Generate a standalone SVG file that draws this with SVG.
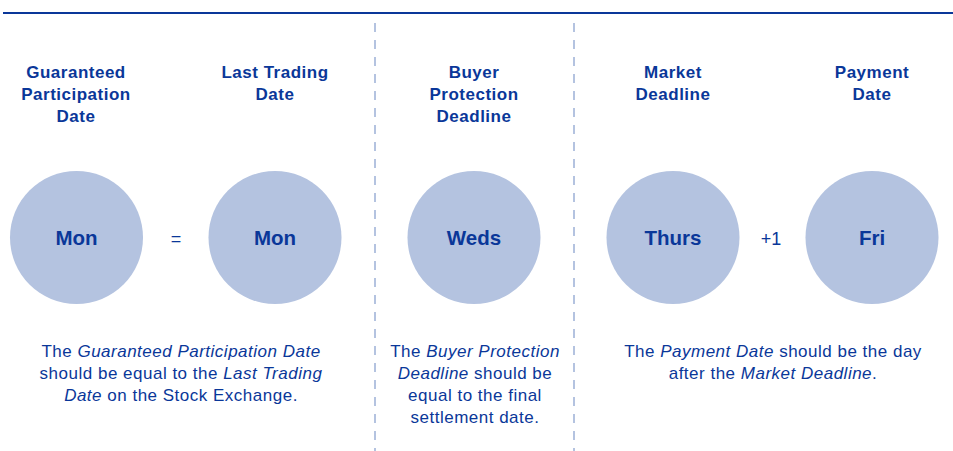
<svg xmlns="http://www.w3.org/2000/svg" width="953" height="451" viewBox="0 0 953 451">
<style>
text{font-family:"Liberation Sans",Arial,sans-serif;fill:#0a3799;text-anchor:middle}
.h{font-size:17px;font-weight:bold;letter-spacing:0.5px}
.c{font-size:20.5px;font-weight:bold}
.b{font-size:17px;letter-spacing:0.5px}
.op{font-size:18px}
circle{fill:#b4c3e0}
.sep{stroke:#b4c3e0;stroke-width:2;stroke-dasharray:9 8}
</style>
<rect width="953" height="451" fill="#fff"/>
<line x1="3" y1="13" x2="953" y2="13" stroke="#0a3799" stroke-width="2.2"/>
<g id="separators">
<line class="sep" x1="375" y1="23" x2="375" y2="451"/>
<line class="sep" x1="574" y1="23" x2="574" y2="451"/>
</g>
<g id="node-gpd">
<text class="h"><tspan x="76" y="78">Guaranteed</tspan><tspan x="76" y="100">Participation</tspan><tspan x="76" y="122">Date</tspan></text>
<circle cx="76.5" cy="237.5" r="66.5"/>
<text class="c" x="76.5" y="245">Mon</text>
</g>
<g id="node-ltd">
<text class="h"><tspan x="275" y="78">Last Trading</tspan><tspan x="275" y="100">Date</tspan></text>
<circle cx="275" cy="237.5" r="66.5"/>
<text class="c" x="275" y="245">Mon</text>
</g>
<g id="node-bpd">
<text class="h"><tspan x="474" y="78">Buyer</tspan><tspan x="474" y="100">Protection</tspan><tspan x="474" y="122">Deadline</tspan></text>
<circle cx="474" cy="237.5" r="66.5"/>
<text class="c" x="474" y="245">Weds</text>
</g>
<g id="node-md">
<text class="h"><tspan x="673" y="78">Market</tspan><tspan x="673" y="100">Deadline</tspan></text>
<circle cx="673" cy="237.5" r="66.5"/>
<text class="c" x="673" y="245">Thurs</text>
</g>
<g id="node-pd">
<text class="h"><tspan x="872" y="78">Payment</tspan><tspan x="872" y="100">Date</tspan></text>
<circle cx="872" cy="237.5" r="66.5"/>
<text class="c" x="872" y="245">Fri</text>
</g>
<g id="operators">
<text class="op" x="176" y="245">=</text>
<text class="op" x="771" y="245">+1</text>
</g>
<g id="notes">
<text class="b"><tspan x="181" y="357">The <tspan font-style="italic">Guaranteed Participation Date</tspan></tspan><tspan x="181" y="379">should be equal to the <tspan font-style="italic">Last Trading</tspan></tspan><tspan x="181" y="401"><tspan font-style="italic">Date</tspan> on the Stock Exchange.</tspan></text>
<text class="b"><tspan x="475" y="357">The <tspan font-style="italic">Buyer Protection</tspan></tspan><tspan x="475" y="379"><tspan font-style="italic">Deadline</tspan> should be</tspan><tspan x="475" y="401">equal to the final</tspan><tspan x="475" y="423">settlement date.</tspan></text>
<text class="b"><tspan x="773" y="357">The <tspan font-style="italic">Payment Date</tspan> should be the day</tspan><tspan x="773" y="379">after the <tspan font-style="italic">Market Deadline</tspan>.</tspan></text>
</g>
</svg>
